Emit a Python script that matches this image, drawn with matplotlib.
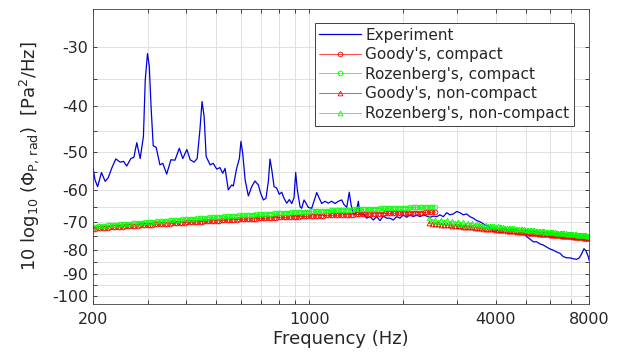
import matplotlib
matplotlib.use("Agg")
import matplotlib.pyplot as plt
import numpy as np
from matplotlib.ticker import FixedLocator, FuncFormatter, NullFormatter

plt.rcParams.update({
    "font.family": "DejaVu Sans", "axes.unicode_minus": False,
    "mathtext.fontset": "dejavusans",
})
TXT = "#262626"
RED = "#ff0000"
GREEN = "#00ff00"
BLUE = "#0000e0"

# ---------------------------------------------------------------- data
exp_f = [200, 203, 207, 213, 219, 224, 230, 237, 245, 251, 257, 265, 271, 277, 284, 291,
         295, 300, 304, 308, 313, 320, 329, 336, 346, 357, 368, 380, 390, 402, 412, 424,
         434, 443, 450, 457, 464, 478, 489, 502, 514, 525, 534, 547, 561, 568, 582, 594,
         601, 609, 620, 635, 651, 667, 684, 696, 710, 724, 737, 746, 756, 769, 784, 799,
         814, 828, 845, 861, 877, 892, 903, 914, 933, 944, 961, 975, 992, 1017, 1043, 1056,
         1076, 1096, 1123, 1151, 1180, 1210, 1240, 1271, 1293, 1320, 1345, 1363, 1386, 1414,
         1439, 1457, 1493, 1531, 1569, 1608, 1649, 1690, 1732, 1777, 1821, 1866, 1914, 1961,
         2010, 2062, 2113, 2166, 2221, 2276, 2333, 2392, 2452, 2513, 2577, 2641, 2707, 2776,
         2845, 2916, 2990, 3065, 3141, 3221, 3301, 3383, 3470, 3557, 3645, 3738, 3831, 3926,
         4027, 4127, 4229, 4337, 4445, 4556, 4672, 4788, 4907, 5033, 5158, 5286, 5421, 5556,
         5694, 5840, 5985, 6134, 6291, 6447, 6607, 6776, 6945, 7117, 7299, 7442, 7576, 7707,
         7822, 7957, 8000]
exp_db = [-53.8, -57.1, -59.0, -55.1, -57.5, -56.5, -53.9, -51.6, -52.4, -52.2, -53.4, -51.5,
          -51.2, -47.7, -51.5, -46.3, -35.2, -31.0, -33.0, -40.1, -48.4, -48.8, -53.1, -52.7,
          -55.5, -51.8, -51.9, -49.0, -51.5, -49.3, -51.8, -52.4, -51.5, -44.8, -39.1, -42.0,
          -51.0, -53.1, -52.7, -54.2, -53.8, -55.3, -54.0, -59.9, -58.5, -58.8, -54.0, -51.5,
          -47.4, -50.2, -57.1, -61.7, -59.0, -57.4, -58.5, -60.9, -62.9, -62.4, -57.5, -51.6,
          -54.4, -59.0, -59.4, -61.2, -60.6, -62.4, -63.9, -62.8, -64.0, -62.2, -55.1, -59.9,
          -65.0, -65.5, -62.9, -63.9, -65.2, -65.5, -62.2, -60.7, -62.4, -64.0, -63.3, -63.9,
          -63.3, -64.0, -63.3, -62.9, -64.3, -65.2, -60.6, -64.3, -67.3, -67.1, -63.3, -67.6,
          -67.1, -68.7, -68.2, -69.3, -68.2, -69.5, -68.0, -68.7, -68.7, -69.3, -68.2, -68.7,
          -67.6, -68.4, -67.6, -68.2, -67.6, -68.2, -67.6, -68.0, -68.4, -68.0, -68.2, -67.6,
          -68.2, -66.9, -67.6, -67.3, -66.5, -66.9, -67.6, -67.3, -68.2, -68.7, -69.5, -69.9,
          -70.6, -71.3, -71.7, -73.3, -72.9, -72.4, -72.4, -72.9, -72.7, -72.4, -72.9, -73.6,
          -73.6, -75.1, -76.0, -77.0, -77.0, -77.8, -78.2, -79.0, -79.7, -80.2, -80.9, -81.4,
          -82.7, -83.2, -83.2, -83.6, -83.8, -83.2, -81.6, -79.6, -80.5, -82.7, -84.0]

# compact models (circles), 200 Hz .. ~2.5 kHz
cmp_f = [200, 203.7, 207.5, 211.4, 215.3, 219.3, 223.4, 227.6, 231.8, 236.1,
         240.5, 245.0, 249.5, 254.1, 258.9, 263.7, 268.6, 273.6, 278.7, 283.9,
         289.1, 294.5, 300.0, 305.6, 311.2, 317.0, 322.9, 328.9, 335.0, 341.2,
         347.6, 354.1, 360.6, 367.3, 374.2, 381.2, 388.2, 395.4, 402.8, 410.3,
         417.9, 425.7, 433.6, 441.7, 449.8, 458.2, 466.7, 475.4, 484.2, 493.2,
         502.4, 511.7, 521.3, 531.0, 540.8, 550.9, 561.1, 571.5, 582.2, 593.0,
         604.0, 615.2, 626.7, 638.4, 650.2, 662.3, 674.6, 687.1, 699.9, 712.9,
         726.2, 739.7, 753.4, 767.4, 781.7, 796.2, 811.0, 826.1, 841.5, 857.1,
         873.0, 889.2, 905.8, 922.6, 939.8, 957.3, 975.1, 993.2, 1011.7, 1030.5,
         1049.6, 1069.1, 1089.0, 1109.2, 1129.9, 1150.9, 1172.3, 1194.1, 1216.3, 1238.9,
         1262.0, 1285.5, 1309.3, 1333.6, 1358.4, 1383.6, 1409.4, 1435.6, 1462.3, 1489.5,
         1517.2, 1545.4, 1574.1, 1603.3, 1633.2, 1663.6, 1694.5, 1726.0, 1758.1, 1790.8,
         1824.1, 1858.0, 1892.5, 1927.7, 1963.5, 2000.0, 2037.2, 2075.1, 2113.6, 2152.9,
         2193.0, 2233.8, 2275.2, 2317.5, 2360.6, 2404.5, 2449.2, 2494.7, 2541.1]
goody_cmp = [-72.30, -72.24, -72.17, -72.11, -72.05, -71.99, -71.92, -71.86, -71.80, -71.74,
             -71.68, -71.62, -71.56, -71.50, -71.44, -71.38, -71.32, -71.26, -71.20, -71.15,
             -71.09, -71.04, -70.98, -70.92, -70.86, -70.81, -70.75, -70.70, -70.64, -70.59,
             -70.54, -70.49, -70.43, -70.38, -70.32, -70.27, -70.22, -70.17, -70.12, -70.07,
             -70.02, -69.97, -69.92, -69.87, -69.82, -69.77, -69.72, -69.68, -69.63, -69.58,
             -69.53, -69.49, -69.44, -69.40, -69.35, -69.31, -69.26, -69.22, -69.17, -69.13,
             -69.08, -69.04, -69.00, -68.96, -68.91, -68.87, -68.83, -68.79, -68.75, -68.71,
             -68.67, -68.63, -68.59, -68.55, -68.51, -68.47, -68.43, -68.40, -68.36, -68.33,
             -68.29, -68.25, -68.21, -68.18, -68.14, -68.11, -68.07, -68.04, -68.01, -67.98,
             -67.94, -67.91, -67.87, -67.84, -67.81, -67.78, -67.75, -67.72, -67.69, -67.66,
             -67.63, -67.60, -67.57, -67.54, -67.51, -67.49, -67.46, -67.43, -67.40, -67.38,
             -67.35, -67.33, -67.30, -67.28, -67.25, -67.23, -67.20, -67.18, -67.15, -67.13,
             -67.11, -67.09, -67.06, -67.04, -67.02, -67.00, -66.98, -66.96, -66.94, -66.92,
             -66.90, -66.88, -66.86, -66.85, -66.83, -66.81, -66.79, -66.78, -66.76]
roz_cmp = [-71.60, -71.52, -71.44, -71.37, -71.30, -71.22, -71.14, -71.07, -71.00, -70.93,
           -70.86, -70.79, -70.71, -70.64, -70.57, -70.50, -70.42, -70.35, -70.28, -70.22,
           -70.15, -70.09, -70.02, -69.95, -69.87, -69.81, -69.74, -69.68, -69.61, -69.55,
           -69.49, -69.43, -69.36, -69.30, -69.23, -69.17, -69.11, -69.05, -68.99, -68.93,
           -68.87, -68.81, -68.75, -68.69, -68.63, -68.57, -68.51, -68.46, -68.40, -68.35,
           -68.29, -68.24, -68.18, -68.13, -68.07, -68.02, -67.96, -67.91, -67.86, -67.81,
           -67.75, -67.70, -67.65, -67.60, -67.55, -67.50, -67.45, -67.41, -67.36, -67.31,
           -67.26, -67.22, -67.17, -67.12, -67.07, -67.03, -66.98, -66.94, -66.90, -66.86,
           -66.81, -66.77, -66.72, -66.68, -66.64, -66.60, -66.55, -66.52, -66.48, -66.44,
           -66.40, -66.36, -66.32, -66.29, -66.25, -66.22, -66.18, -66.14, -66.10, -66.07,
           -66.03, -66.00, -65.96, -65.93, -65.89, -65.86, -65.83, -65.80, -65.77, -65.74,
           -65.71, -65.68, -65.65, -65.62, -65.59, -65.56, -65.53, -65.50, -65.47, -65.45,
           -65.43, -65.40, -65.37, -65.35, -65.32, -65.30, -65.28, -65.26, -65.23, -65.21,
           -65.19, -65.17, -65.14, -65.12, -65.10, -65.08, -65.06, -65.04, -65.02]

# non-compact models (triangles), ~2.4 kHz .. 8 kHz
nc_f = [2430, 2488, 2546, 2604, 2662, 2720, 2778, 2836, 2894, 2952, 3010, 3068, 3126, 3184,
        3242, 3300, 3358, 3416, 3474, 3532, 3590, 3648, 3706, 3764, 3822, 3880, 3938, 3996,
        4054, 4112, 4170, 4228, 4286, 4344, 4402, 4460, 4518, 4576, 4634, 4692, 4750, 4808,
        4866, 4924, 4982, 5040, 5098, 5156, 5214, 5272, 5330, 5388, 5446, 5504, 5562, 5620,
        5678, 5736, 5794, 5852, 5910, 5968, 6026, 6084, 6142, 6200, 6258, 6316, 6374, 6432,
        6490, 6548, 6606, 6664, 6722, 6780, 6838, 6896, 6954, 7012, 7070, 7128, 7186, 7244,
        7302, 7360, 7418, 7476, 7534, 7592, 7650, 7708, 7766, 7824, 7882, 7940, 7998]
goody_nc = [-70.46, -70.56, -70.66, -70.76, -70.85, -70.95, -71.04, -71.13, -71.21, -71.30,
            -71.38, -71.46, -71.54, -71.62, -71.70, -71.78, -71.85, -71.93, -72.00, -72.07,
            -72.14, -72.21, -72.27, -72.34, -72.41, -72.48, -72.54, -72.60, -72.66, -72.72,
            -72.78, -72.84, -72.90, -72.96, -73.01, -73.07, -73.13, -73.18, -73.23, -73.29,
            -73.34, -73.39, -73.44, -73.50, -73.55, -73.60, -73.65, -73.70, -73.74, -73.79,
            -73.84, -73.89, -73.93, -73.98, -74.02, -74.07, -74.11, -74.16, -74.20, -74.24,
            -74.28, -74.32, -74.36, -74.41, -74.45, -74.49, -74.53, -74.57, -74.61, -74.65,
            -74.68, -74.72, -74.76, -74.80, -74.83, -74.87, -74.91, -74.95, -74.98, -75.02,
            -75.05, -75.09, -75.12, -75.16, -75.19, -75.23, -75.26, -75.29, -75.32, -75.36,
            -75.39, -75.43, -75.46, -75.49, -75.52, -75.55, -75.58]
roz_nc = [-68.71, -69.72, -69.23, -70.04, -69.24, -69.94, -69.34, -70.34, -69.73, -70.42,
          -69.81, -70.50, -70.09, -70.88, -70.36, -70.84, -70.42, -71.10, -70.68, -71.16,
          -70.84, -71.22, -70.99, -71.46, -71.23, -71.50, -71.37, -71.64, -71.51, -71.78,
          -71.74, -71.81, -71.87, -71.93, -71.99, -72.05, -72.11, -72.17, -72.23, -72.29,
          -72.35, -72.41, -72.46, -72.52, -72.57, -72.63, -72.68, -72.73, -72.78, -72.84,
          -72.89, -72.94, -72.99, -73.04, -73.09, -73.14, -73.18, -73.23, -73.28, -73.33,
          -73.37, -73.42, -73.46, -73.51, -73.55, -73.60, -73.64, -73.68, -73.72, -73.77,
          -73.81, -73.85, -73.89, -73.93, -73.97, -74.01, -74.05, -74.09, -74.13, -74.17,
          -74.21, -74.25, -74.29, -74.33, -74.36, -74.40, -74.44, -74.48, -74.51, -74.55,
          -74.58, -74.62, -74.65, -74.69, -74.72, -74.76, -74.79]

y_major = [-100, -90, -80, -70, -60, -50, -40, -30]
y_minor = [-95, -85, -75, -65, -55, -45, -35]
x_major = [200, 1000, 4000, 8000]
x_minor = [300, 400, 500, 600, 700, 800, 900, 2000, 3000, 5000, 6000, 7000]


def fwd(y):
    return -np.log10(np.clip(-np.asarray(y, float), 1e-6, None))


def inv(z):
    return -10.0 ** (-np.asarray(z, float))


# ---------------------------------------------------------------- figure
fig = plt.figure(figsize=(6.21, 3.56), dpi=100)
ax = fig.add_axes([93 / 621, 1 - 304 / 356, 496 / 621, 295 / 356])

ax.plot(exp_f, exp_db, color=BLUE, lw=0.9, label="Experiment")
mk = dict(ms=3.4, mew=0.6, mfc="none", lw=0.5)
ax.plot(cmp_f, goody_cmp, color=RED, marker="o", label="Goody's, compact", **mk)
ax.plot(cmp_f, roz_cmp, color=GREEN, marker="o", label="Rozenberg's, compact", **mk)
ax.plot(nc_f, goody_nc, color=RED, marker="^", label="Goody's, non-compact", **mk)
ax.plot(nc_f, roz_nc, color=GREEN, marker="^", label="Rozenberg's, non-compact", **mk)

ax.set_xscale("log")
ax.set_yscale("function", functions=(fwd, inv))
ax.set_xlim(200, 8000)
ax.set_ylim(-104, -25)

ax.xaxis.set_major_locator(FixedLocator(x_major))
ax.xaxis.set_minor_locator(FixedLocator(x_minor))
ax.xaxis.set_major_formatter(FuncFormatter(lambda v, p: f"{v:.0f}"))
ax.xaxis.set_minor_formatter(NullFormatter())
ax.yaxis.set_major_locator(FixedLocator(y_major))
ax.yaxis.set_minor_locator(FixedLocator(y_minor))
ax.yaxis.set_major_formatter(FuncFormatter(lambda v, p: f"{v:.0f}"))
ax.yaxis.set_minor_formatter(NullFormatter())

ax.grid(True, which="both", color="#dcdcdc", lw=0.6)
ax.set_axisbelow(True)
ax.tick_params(which="both", direction="in", top=True, right=True,
               length=3, width=0.6, color=TXT, labelcolor=TXT, labelsize=11.5)
ax.tick_params(axis="x", pad=6)
ax.tick_params(axis="y", pad=3.5)
for s in ax.spines.values():
    s.set_color("#404040")
    s.set_linewidth(0.6)

ax.set_xlabel("Frequency (Hz)", fontsize=13, color=TXT, labelpad=2)
ax.set_ylabel(r"10 log$_{10}$ ($\Phi_{\rm P,\,rad}$)  [Pa$^2$/Hz]", fontsize=13, color=TXT)
ax.yaxis.set_label_coords(-0.105, 0.5)

leg = ax.legend(loc="upper right", bbox_to_anchor=(574 / 621, 1 - 23 / 356),
                bbox_transform=fig.transFigure, borderaxespad=0, fontsize=11,
                fancybox=False, framealpha=1, edgecolor="#404040",
                labelspacing=0.3, borderpad=0.3, handlelength=2.7, handletextpad=0.3)
leg.get_frame().set_linewidth(0.7)
for t in leg.get_texts():
    t.set_color(TXT)

fig.savefig("out.png", dpi=100)
